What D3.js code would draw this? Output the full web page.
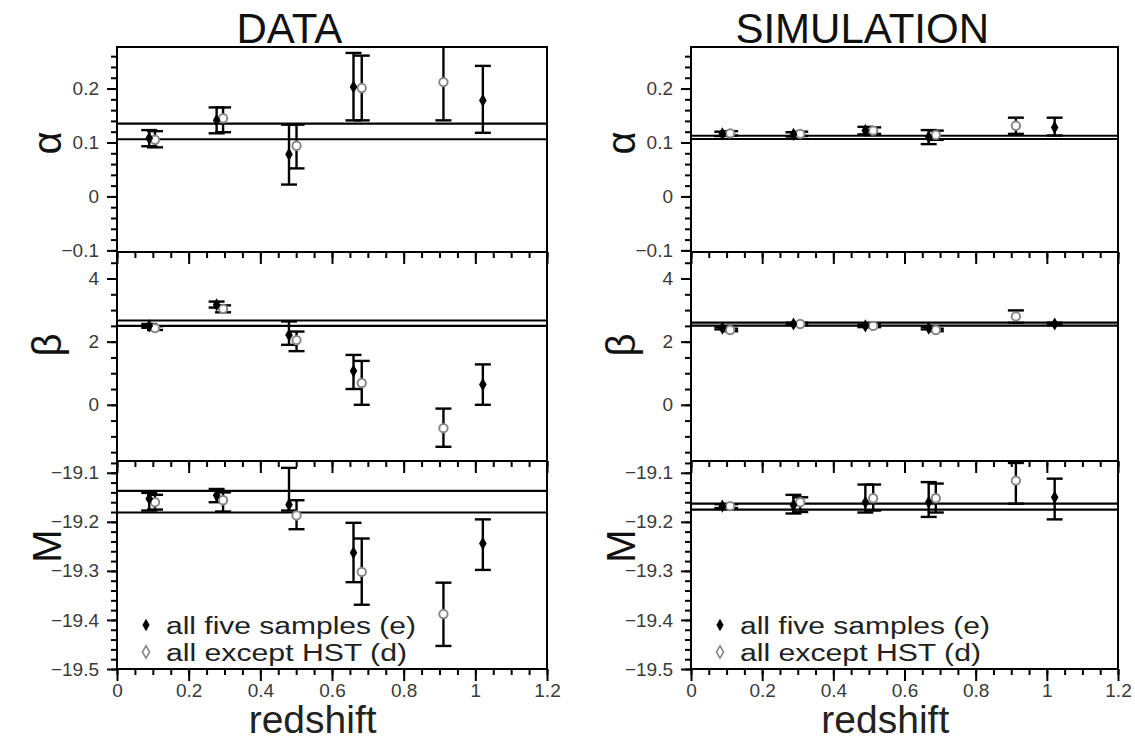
<!DOCTYPE html>
<html><head><meta charset="utf-8">
<script src="https://cdn.jsdelivr.net/npm/d3@7"></script>
<style>
body{margin:0;background:#fff}
svg{display:block}
text{font-family:"Liberation Sans",Arial,Helvetica,sans-serif}
</style>
</head><body>
<svg id="chart" width="1135" height="740"></svg>
<script>
// ---------- redshift bins ----------
const zFiveData   = [0.090, 0.278, 0.480, 0.660, 1.021];
const zExceptData = [0.106, 0.296, 0.501, 0.683, 0.911];
const zFiveSim    = [0.088, 0.288, 0.490, 0.668, 1.022];
const zExceptSim  = [0.110, 0.307, 0.512, 0.688, 0.913];

// ---------- DATA : alpha ----------
const dataAlphaFive     = [0.108, 0.141, 0.078, 0.203, 0.178];
const dataAlphaFiveLo   = [0.093, 0.117, 0.022, 0.141, 0.118];
const dataAlphaFiveHi   = [0.123, 0.165, 0.133, 0.266, 0.242];
const dataAlphaExcept   = [0.105, 0.145, 0.094, 0.201, 0.212];
const dataAlphaExceptLo = [0.091, 0.119, 0.052, 0.141, 0.141];
const dataAlphaExceptHi = [0.121, 0.165, 0.133, 0.261, 0.290];
const dataAlphaFits     = [0.135, 0.106];

// ---------- DATA : beta ----------
const dataBetaFive      = [2.50, 3.17, 2.21, 1.07, 0.64];
const dataBetaFiveLo    = [2.44, 3.08, 1.90, 0.50, 0.00];
const dataBetaFiveHi    = [2.56, 3.27, 2.64, 1.58, 1.28];
const dataBetaExcept    = [2.43, 3.04, 2.05, 0.69, -0.74];
const dataBetaExceptLo  = [2.37, 2.93, 1.70, 0.00, -1.33];
const dataBetaExceptHi  = [2.49, 3.15, 2.32, 1.39, -0.12];
const dataBetaFits      = [2.67, 2.50];

// ---------- DATA : M ----------
const dataMFive         = [-19.153, -19.146, -19.165, -19.263, -19.244];
const dataMFiveLo       = [-19.177, -19.160, -19.177, -19.323, -19.298];
const dataMFiveHi       = [-19.141, -19.133, -19.090, -19.202, -19.195];
const dataMExcept       = [-19.160, -19.156, -19.187, -19.302, -19.388];
const dataMExceptLo     = [-19.175, -19.179, -19.215, -19.369, -19.453];
const dataMExceptHi     = [-19.145, -19.140, -19.156, -19.234, -19.324];
const dataMFits         = [-19.137, -19.181];

// ---------- SIMULATION : alpha ----------
const simAlphaFive      = [0.116, 0.115, 0.122, 0.110, 0.128];
const simAlphaFiveLo    = [0.112, 0.111, 0.115, 0.097, 0.113];
const simAlphaFiveHi    = [0.120, 0.119, 0.129, 0.123, 0.146];
const simAlphaExcept    = [0.117, 0.116, 0.122, 0.114, 0.131];
const simAlphaExceptLo  = [0.113, 0.112, 0.116, 0.105, 0.116];
const simAlphaExceptHi  = [0.121, 0.120, 0.128, 0.122, 0.146];
const simAlphaFits      = [0.1125, 0.1065];

// ---------- SIMULATION : beta ----------
const simBetaFive       = [2.43, 2.56, 2.50, 2.43, 2.56];
const simBetaFiveLo     = [2.39, 2.52, 2.46, 2.39, 2.52];
const simBetaFiveHi     = [2.47, 2.60, 2.54, 2.47, 2.60];
const simBetaExcept     = [2.37, 2.56, 2.50, 2.37, 2.80];
const simBetaExceptLo   = [2.33, 2.52, 2.46, 2.33, 2.60];
const simBetaExceptHi   = [2.41, 2.60, 2.54, 2.41, 2.99];
const simBetaFits       = [2.60, 2.51];

// ---------- SIMULATION : M ----------
const simMFive          = [-19.168, -19.166, -19.160, -19.160, -19.150];
const simMFiveLo        = [-19.172, -19.183, -19.181, -19.190, -19.195];
const simMFiveHi        = [-19.164, -19.145, -19.124, -19.119, -19.112];
const simMExcept        = [-19.168, -19.160, -19.152, -19.152, -19.116];
const simMExceptLo      = [-19.172, -19.180, -19.177, -19.181, -19.163];
const simMExceptHi      = [-19.164, -19.150, -19.124, -19.122, -19.080];
const simMFits          = [-19.163, -19.175];

// ---------- tick labels / texts ----------
const xTickValues   = [0, 0.2, 0.4, 0.6, 0.8, 1.0, 1.2];
const alphaTicks    = [-0.1, 0, 0.1, 0.2];
const betaTicks     = [0, 2, 4];
const mTicks        = [-19.5, -19.4, -19.3, -19.2, -19.1];
const panelTitles   = ["DATA", "SIMULATION"];
const panelLabels   = ["α", "β", "M"];
const legendLabels  = ["all five samples (e)", "all except HST (d)"];
const xAxisTitle    = "redshift";

// ---------- build ----------
const svg = d3.select("#chart");
const series = (z, v, lo, hi) => z.map((d, i) => ({z: d, v: v[i], lo: lo[i], hi: hi[i]}));

const sides = [
  {title: panelTitles[0], x0: 117, x1: 547, id: "d",
   panels: [
     {five: series(zFiveData, dataAlphaFive, dataAlphaFiveLo, dataAlphaFiveHi),
      except: series(zExceptData, dataAlphaExcept, dataAlphaExceptLo, dataAlphaExceptHi), fits: dataAlphaFits},
     {five: series(zFiveData, dataBetaFive, dataBetaFiveLo, dataBetaFiveHi),
      except: series(zExceptData, dataBetaExcept, dataBetaExceptLo, dataBetaExceptHi), fits: dataBetaFits},
     {five: series(zFiveData, dataMFive, dataMFiveLo, dataMFiveHi),
      except: series(zExceptData, dataMExcept, dataMExceptLo, dataMExceptHi), fits: dataMFits}
   ]},
  {title: panelTitles[1], x0: 691, x1: 1118, id: "s",
   panels: [
     {five: series(zFiveSim, simAlphaFive, simAlphaFiveLo, simAlphaFiveHi),
      except: series(zExceptSim, simAlphaExcept, simAlphaExceptLo, simAlphaExceptHi), fits: simAlphaFits},
     {five: series(zFiveSim, simBetaFive, simBetaFiveLo, simBetaFiveHi),
      except: series(zExceptSim, simBetaExcept, simBetaExceptLo, simBetaExceptHi), fits: simBetaFits},
     {five: series(zFiveSim, simMFive, simMFiveLo, simMFiveHi),
      except: series(zExceptSim, simMExcept, simMExceptLo, simMExceptHi), fits: simMFits}
   ]}
];

const panelGeom = [
  {y0: 47,  y1: 252, domain: [-0.103, 0.277], major: alphaTicks, minor: d3.range(-10, 28, 2).map(d => d / 100), fmt: d => d === 0 ? "0" : d3.format(".1f")(d), labelY: 143},
  {y0: 252, y1: 461, domain: [-1.78, 4.84],   major: betaTicks,  minor: d3.range(-3, 10, 1).map(d => d / 2), fmt: d3.format("d"), labelY: 345},
  {y0: 461, y1: 669, domain: [-19.5, -19.076], major: mTicks,    minor: d3.range(-1950, -1907, 2).map(d => d / 100), fmt: d3.format(".1f"), labelY: 546}
];
const xMinor = d3.range(0, 25, 1).map(d => d / 20);
const fmtX = d => d === 0 ? "0" : (d === 1 ? "1" : d3.format(".1f")(d));

const defs = svg.append("defs");
const capW = 8;

sides.forEach(side => {
  const x = d3.scaleLinear().domain([0, 1.2]).range([side.x0, side.x1]);
  const w = side.x1 - side.x0;

  side.panels.forEach((p, pi) => {
    const g = panelGeom[pi];
    const y = d3.scaleLinear().domain(g.domain).range([g.y1, g.y0]);
    const clipId = `clip-${side.id}-${pi}`;
    defs.append("clipPath").attr("id", clipId)
      .append("rect").attr("x", side.x0).attr("y", g.y0).attr("width", w).attr("height", g.y1 - g.y0);

    // y axis minor + major
    const yMinor = svg.append("g").attr("transform", `translate(${side.x0},0)`)
      .call(d3.axisLeft(y).tickValues(g.minor).tickSize(6).tickFormat(""));
    const yMajor = svg.append("g").attr("transform", `translate(${side.x0},0)`)
      .call(d3.axisLeft(y).tickValues(g.major).tickSize(10).tickPadding(8).tickFormat(g.fmt));
    [yMinor, yMajor].forEach(a => {
      a.select(".domain").remove();
      a.selectAll(".tick line").attr("stroke", "#000").attr("stroke-width", 2);
    });
    yMajor.selectAll(".tick text").attr("font-size", 19).attr("fill", "#3a3a3a")
      .attr("font-family", "'Liberation Sans', Arial, sans-serif");

    // x axis ticks (outward, below each panel)
    const xMin = svg.append("g").attr("transform", `translate(0,${g.y1})`)
      .call(d3.axisBottom(x).tickValues(xMinor).tickSize(6).tickFormat(""));
    const xMaj = svg.append("g").attr("transform", `translate(0,${g.y1})`)
      .call(d3.axisBottom(x).tickValues(xTickValues).tickSize(12).tickPadding(6)
        .tickFormat(pi === 2 ? fmtX : ""));
    [xMin, xMaj].forEach(a => {
      a.select(".domain").remove();
      a.selectAll(".tick line").attr("stroke", "#000").attr("stroke-width", 2);
    });
    xMaj.selectAll(".tick text").attr("font-size", 19).attr("fill", "#3a3a3a")
      .attr("font-family", "'Liberation Sans', Arial, sans-serif").attr("dy", "0.5em");

    const body = svg.append("g").attr("clip-path", `url(#${clipId})`);

    // fit lines
    body.selectAll("line.fit").data(p.fits).join("line").attr("class", "fit")
      .attr("x1", side.x0).attr("x2", side.x1)
      .attr("y1", d => y(d)).attr("y2", d => y(d))
      .attr("stroke", "#000").attr("stroke-width", 2.2);

    // error bars
    const drawErr = (data) => {
      const eg = body.append("g").attr("stroke", "#000").attr("stroke-width", 2.4);
      eg.selectAll("line.v").data(data).join("line")
        .attr("x1", d => x(d.z)).attr("x2", d => x(d.z))
        .attr("y1", d => y(d.lo)).attr("y2", d => y(d.hi));
      eg.selectAll("line.lo").data(data).join("line")
        .attr("x1", d => x(d.z) - capW).attr("x2", d => x(d.z) + capW)
        .attr("y1", d => y(d.lo)).attr("y2", d => y(d.lo));
      eg.selectAll("line.hi").data(data).join("line")
        .attr("x1", d => x(d.z) - capW).attr("x2", d => x(d.z) + capW)
        .attr("y1", d => y(d.hi)).attr("y2", d => y(d.hi));
    };
    drawErr(p.except);
    drawErr(p.five);

    // markers
    const openSym = d3.symbol().type(d3.symbolCircle).size(55);
    const fillSym = d3.symbol().type(d3.symbolDiamond).size(50);
    body.selectAll("path.open").data(p.except).join("path").attr("class", "open")
      .attr("d", openSym).attr("transform", d => `translate(${x(d.z)},${y(d.v)})`)
      .attr("fill", "#fff").attr("stroke", "#888").attr("stroke-width", 2);
    body.selectAll("path.fill").data(p.five).join("path").attr("class", "fill")
      .attr("d", fillSym).attr("transform", d => `translate(${x(d.z)},${y(d.v)})`)
      .attr("fill", "#000");

    // frame
    svg.append("rect").attr("x", side.x0).attr("y", g.y0).attr("width", w).attr("height", g.y1 - g.y0)
      .attr("fill", "none").attr("stroke", "#000").attr("stroke-width", 2);

    // y title
    svg.append("text").attr("transform", `translate(${side.x0 - 56},${g.labelY}) rotate(-90)`)
      .attr("text-anchor", "middle").attr("font-size", 40).attr("fill", "#111")
      .text(panelLabels[pi]);

    // legend
    if (pi === 2) {
      const lg = svg.append("g");
      lg.append("path").attr("d", d3.symbol().type(d3.symbolDiamond).size(45))
        .attr("transform", `translate(${side.x0 + 29},625)`).attr("fill", "#000");
      lg.append("path").attr("d", d3.symbol().type(d3.symbolDiamond).size(45))
        .attr("transform", `translate(${side.x0 + 29},652)`).attr("fill", "#fff")
        .attr("stroke", "#888").attr("stroke-width", 1.6);
      lg.append("text").attr("x", side.x0 + 49).attr("y", 634).attr("font-size", 23)
        .attr("fill", "#222").attr("textLength", 250).attr("lengthAdjust", "spacingAndGlyphs")
        .text(legendLabels[0]);
      lg.append("text").attr("x", side.x0 + 49).attr("y", 661).attr("font-size", 23)
        .attr("fill", "#222").attr("textLength", 241).attr("lengthAdjust", "spacingAndGlyphs")
        .text(legendLabels[1]);
    }
  });

  // title & x title
  svg.append("text").attr("x", side.x0 + 0.401 * w).attr("y", 43).attr("text-anchor", "middle")
    .attr("font-size", 42).attr("fill", "#111").text(side.title);
  svg.append("text").attr("x", side.x0 + 0.455 * w).attr("y", 733).attr("text-anchor", "middle")
    .attr("font-size", 39).attr("fill", "#222").text(xAxisTitle);
});
</script>
</body></html>
